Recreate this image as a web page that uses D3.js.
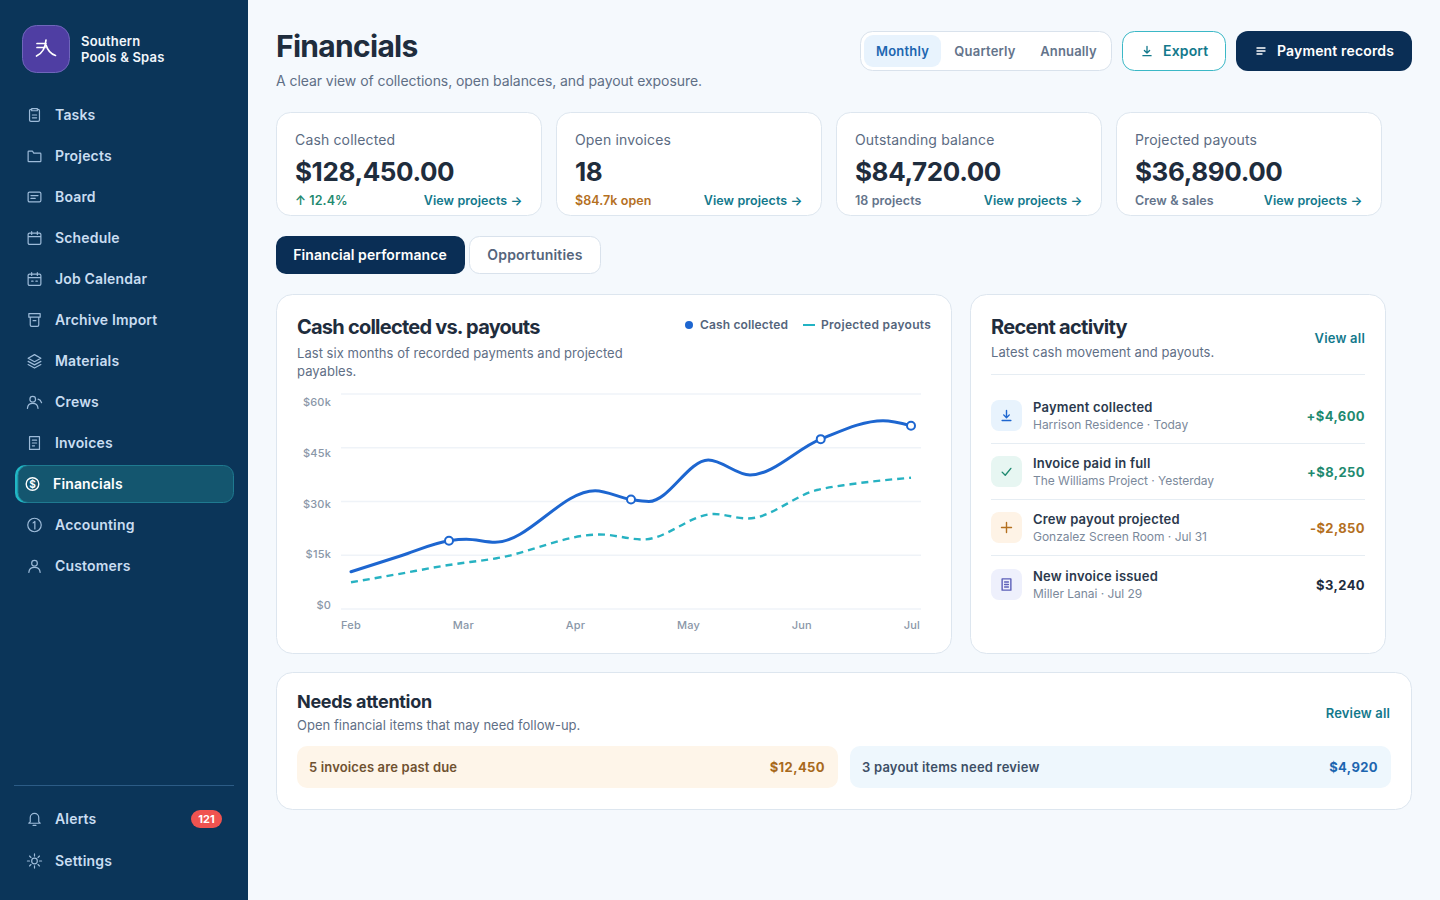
<!DOCTYPE html>
<html>
<head>
<meta charset="utf-8">
<title>Financials</title>
<script src="https://cdn.jsdelivr.net/npm/d3@7"></script>
<style>
html,body{margin:0;padding:0;background:#f5f9fd;}
svg{display:block;font-family:Inter,"Noto Sans",sans-serif;}
</style>
</head>
<body>
<svg id="page" width="1440" height="900"></svg>
<script>
// chart data
var monthLabels = ["Feb","Mar","Apr","May","Jun","Jul"];
var yTickValues = [0,15000,30000,45000,60000];
var yTickLabels = ["$60k","$45k","$30k","$15k","$0"];

var cashMonths = [0,0.44,0.875,1.03,1.286,2.18,2.5,2.66,3.19,3.5625,4.194,4.75,5];
var cashValues = [10410,14800,19060,19450,18610,33010,30550,30000,41580,37400,47400,52550,51150];
var cashMarkers = [2,6,10,12];

var payoutMonths = [0,0.41,0.857,1.30,2.22,2.61,3.24,3.54,4.16,4.46,5];
var payoutValues = [7450,9680,12200,14150,20800,19400,26510,25250,33210,34800,36640];

// page text
var navItems = ["Tasks","Projects","Board","Schedule","Job Calendar","Archive Import","Materials","Crews","Invoices","Financials","Accounting","Customers"];
var kpiLabels = ["Cash collected","Open invoices","Outstanding balance","Projected payouts"];
var kpiValues = ["$128,450.00","18","$84,720.00","$36,890.00"];
var kpiNotes = ["↑ 12.4%","$84.7k open","18 projects","Crew & sales"];
var kpiNoteColors = ["#1f8a70","#b4701f","#64748b","#64748b"];
var activityTitles = ["Payment collected","Invoice paid in full","Crew payout projected","New invoice issued"];
var activitySubs = ["Harrison Residence · Today","The Williams Project · Yesterday","Gonzalez Screen Room · Jul 31","Miller Lanai · Jul 29"];
var activityAmounts = ["+$4,600","+$8,250","-$2,850","$3,240"];
var activityColors = ["#1f8a70","#1f8a70","#b4701f","#1f2d3d"];
var activityBg = ["#e8f3fd","#e7f6f2","#fef3e6","#eef0fc"];
var activityIconColor = ["#1d66d0","#1f8a70","#b4701f","#5c5fb8"];

var svg = d3.select("#page");

function box(parent,x,y,w,h,r,fill,stroke){
	return parent.append("rect")
		.attr("x",x+0.5).attr("y",y+0.5)
		.attr("width",w-1).attr("height",h-1)
		.attr("rx",r)
		.attr("fill",fill)
		.attr("stroke",stroke||"none");
}

function label(parent,x,y,txt,size,weight,color,anchor,spacing){
	return parent.append("text")
		.attr("x",x).attr("y",y)
		.attr("dy","0.36em")
		.attr("font-size",size)
		.attr("font-weight",weight)
		.attr("fill",color)
		.attr("text-anchor",anchor||"start")
		.attr("letter-spacing",spacing||0)
		.text(txt);
}

// icons are drawn on a 24x24 box
var iconPaths = {
	tasks:"M8 4H7a2 2 0 0 0-2 2v13a2 2 0 0 0 2 2h10a2 2 0 0 0 2-2V6a2 2 0 0 0-2-2h-1M8 3h8v3H8zM9 12h6M9 16h6",
	projects:"M3 6a1 1 0 0 1 1-1h5l2 3h9a1 1 0 0 1 1 1v10a1 1 0 0 1-1 1H4a1 1 0 0 1-1-1z",
	board:"M5 5h14a2 2 0 0 1 2 2v10a2 2 0 0 1-2 2H5a2 2 0 0 1-2-2V7a2 2 0 0 1 2-2zM7 10h10M7 14h6",
	schedule:"M5 5h14a2 2 0 0 1 2 2v12a2 2 0 0 1-2 2H5a2 2 0 0 1-2-2V7a2 2 0 0 1 2-2zM3 10h18M8 3v4M16 3v4",
	calendar:"M5 5h14a2 2 0 0 1 2 2v12a2 2 0 0 1-2 2H5a2 2 0 0 1-2-2V7a2 2 0 0 1 2-2zM3 10h18M8 3v4M16 3v4M8 15h2M14 15h2",
	archive:"M4 3h16v5H4zM6 8v11a2 2 0 0 0 2 2h8a2 2 0 0 0 2-2V8M10 13h4",
	materials:"M12 3l9 5-9 5-9-5zM3 12.5l9 5 9-5M3 17l9 5 9-5",
	crews:"M9.5 4a4 4 0 1 1 0 8 4 4 0 0 1 0-8zM2 21c.5-5 3.5-7 7.5-7s7 2 7.5 7M17 8c2 .5 4 2 5 5",
	invoices:"M5 3h14v18H5zM9 8h6M9 12h6M9 16h3",
	accounting:"M12 2.5a9.5 9.5 0 1 1 0 19 9.5 9.5 0 0 1 0-19zM10 9l2.5-2v10.5",
	customers:"M12 4a4 4 0 1 1 0 8 4 4 0 0 1 0-8zM4 21c.5-5 3.5-7 8-7s7.500 2 8 7",
	bell:"M6 16V10a6 6 0 0 1 12 0v6l2 2H4zM10 21h4",
	sun:"M12 8a4 4 0 1 1 0 8 4 4 0 0 1 0-8zM12 2v3M12 19v3M2 12h3M19 12h3M5 5l2 2M17 17l2 2M5 19l2-2M17 7l2-2",
	download:"M12 4v11M7.500 11l4.500 4.500 4.500-4.500M5 20h14",
	menu:"M4 6h16M4 12h16M4 18h10",
	check:"M5 13l5 5 9-11",
	plus:"M12 4v16M4 12h16",
	doc:"M5 3h14v18H5zM9 8h6M9 12h6M9 16h6"
};

function icon(parent,name,cx,cy,size,color,width){
	var s = size/24;
	parent.append("path")
		.attr("d",iconPaths[name])
		.attr("transform","translate("+(cx-size/2)+","+(cy-size/2)+") scale("+s+")")
		.attr("fill","none")
		.attr("stroke",color)
		.attr("stroke-width",width/s)
		.attr("stroke-linecap","round")
		.attr("stroke-linejoin","round");
}

buildSidebar();
buildHeader();
buildKpis();
buildChart();
buildActivity();
buildAttention();

function buildSidebar(){
	var side = svg.append("g");
	side.append("rect").attr("width",248).attr("height",900).attr("fill","#0b3559");

	box(side,22,25,48,48,14,"#4f3ea3","#6f66bb");
	side.append("path")
		.attr("d","M37 43.500h9M37 47.500h8M46 40c-.5 7-3 13-9.500 16M46 45c1.500 5 5 9 9.500 10.500")
		.attr("fill","none").attr("stroke","#ffffff").attr("stroke-width",1.7).attr("stroke-linecap","round");
	label(side,81,41.5,"Southern",13,600,"#f2f7fc","start",0.2);
	label(side,81,57.5,"Pools & Spas",13,600,"#f2f7fc","start",0.2);

	var iconNames = ["tasks","projects","board","schedule","calendar","archive","materials","crews","invoices",null,"accounting","customers"];
	var navColor = "#c9ddf1", iconColor = "#9dbbd9";

	// active row sits behind its label
	side.append("rect").attr("x",15).attr("y",465).attr("width",30).attr("height",38).attr("rx",10).attr("fill","#20b6c4");
	box(side,17.5,465,216.5,38,10,"#14566f","#1f7a90");

	navItems.forEach(function(name,i){
		var cy = 115+41*i;
		if(name=="Financials"){
			var g = side.append("g");
			g.append("circle").attr("cx",32.5).attr("cy",484).attr("r",6.3).attr("fill","none").attr("stroke","#ffffff").attr("stroke-width",1.4);
			label(g,32.5,484,"$",10,700,"#ffffff","middle");
			label(side,53,cy,name,14,600,"#ffffff","start",0.15);
		}else{
			icon(side,iconNames[i],34.5,cy,17,iconColor,1.2);
			label(side,55,cy,name,14,600,navColor,"start",0.17);
		}
	});

	side.append("line").attr("x1",14).attr("x2",234).attr("y1",785.500).attr("y2",785.500).attr("stroke","#2c5c86");
	icon(side,"bell",34.500,819,17,iconColor,1.2);
	label(side,55,819,"Alerts",14,600,navColor,"start",0.17);
	side.append("rect").attr("x",191).attr("y",810).attr("width",31).attr("height",18).attr("rx",9).attr("fill","#ef5350");
	label(side,206.500,819,"121",11,700,"#ffffff","middle");
	icon(side,"sun",34.500,861,17,iconColor,1.2);
	label(side,55,861,"Settings",14,600,navColor,"start",0.2);
}

function buildHeader(){
	var top = svg.append("g");
	label(top,276,46,"Financials",30,700,"#1f2d3d","start",-0.7);
	label(top,276,81,"A clear view of collections, open balances, and payout exposure.",14,400,"#5f6f86","start",-0.06);

	box(top,860,31,252,40,12,"#ffffff","#d9e2ec");
	top.append("rect").attr("x",864).attr("y",35).attr("width",77).attr("height",32).attr("rx",9).attr("fill","#e8f3fd");
	label(top,902.500,51,"Monthly",13,600,"#1d66b0","middle",0.2);
	label(top,985,51,"Quarterly",13,600,"#64748b","middle",0.2);
	label(top,1068.500,51,"Annually",13,600,"#64748b","middle",0.15);

	box(top,1122,31,104,40,12,"#ffffff","#3bb8c6");
	icon(top,"download",1147,51,14,"#13798c",1.3);
	label(top,1163,51,"Export",14,600,"#13798c","start",0.15);

	top.append("rect").attr("x",1236).attr("y",31).attr("width",176).attr("height",40).attr("rx",12).attr("fill","#0a2e55");
	icon(top,"menu",1261,51,12,"#ffffff",1.4);
	label(top,1277,51,"Payment records",14,600,"#ffffff","start",0.15);

	// tabs
	top.append("rect").attr("x",276).attr("y",236).attr("width",189).attr("height",38).attr("rx",10).attr("fill","#0a2e55");
	label(top,370,255,"Financial performance",14,600,"#ffffff","middle",0.08);
	box(top,469,236,132,38,10,"#ffffff","#d9e2ec");
	label(top,535,255,"Opportunities",14,600,"#55657c","middle",0.2);
}

function buildKpis(){
	kpiLabels.forEach(function(name,i){
		var x = 276+280*i;
		var g = svg.append("g");
		box(g,x,112,266,104,14,"#ffffff","#dde6ef");
		label(g,x+19,140,name,14,400,"#5b6b82","start",0.15);
		label(g,x+19,172,kpiValues[i],26,700,"#1f2d3d","start",-0.4);
		label(g,x+19,200.500,kpiNotes[i],12.500,600,kpiNoteColors[i],"start",0.08);
		label(g,x+246.5,200.500,"View projects →",12.500,600,"#13798c","end",0.08);
	});
}

function buildChart(){
	var g = svg.append("g");
	box(g,276,294,676,360,16,"#ffffff","#dde6ef");
	label(g,297,327,"Cash collected vs. payouts",20,700,"#1f2d3d","start",-0.77);
	label(g,297,353,"Last six months of recorded payments and projected",13,400,"#5f6f86","start",0.04);
	label(g,297,371,"payables.",13,400,"#5f6f86","start",0.04);

	g.append("circle").attr("cx",689).attr("cy",325).attr("r",4).attr("fill","#1d66d0");
	label(g,700,325,"Cash collected",12,600,"#55657c","start",0.15);
	g.append("line").attr("x1",803).attr("x2",815).attr("y1",325).attr("y2",325).attr("stroke","#22b3c4").attr("stroke-width",2);
	label(g,821,325,"Projected payouts",12,600,"#55657c","start",0.3);

	var xScale = d3.scaleLinear().domain([0,5]).range([351,911]);
	var yScale = d3.scaleLinear().domain([0,60000]).range([609,394]);

	// axis labels are spread evenly and do not sit on the grid lines
	var yLabelScale = d3.scalePoint().domain(yTickLabels).range([402,605]);

	g.append("g").selectAll("line")
		.data(yTickValues)
		.enter()
		.append("line")
		.attr("x1",341).attr("x2",921)
		.attr("y1",function(d){ return yScale(d); })
		.attr("y2",function(d){ return yScale(d); })
		.attr("stroke","#eff3f8")
		.attr("stroke-width",1.6);

	var yAxis = g.append("g").attr("transform","translate(331,0)")
		.call(d3.axisLeft(yLabelScale).tickSize(0).tickPadding(0));
	var xAxis = g.append("g").attr("transform","translate(0,625)")
		.call(d3.axisBottom(xScale).tickValues([0,1,2,3,4,5]).tickSize(0).tickPadding(0)
			.tickFormat(function(d){ return monthLabels[d]; }));
	xAxis.selectAll("text").attr("dy","0.36em").attr("y",0);
	[yAxis,xAxis].forEach(function(a){
		a.select(".domain").remove();
		a.selectAll("text").attr("font-family","Inter").attr("font-size",11).attr("font-weight",500).attr("letter-spacing",0.2).attr("fill","#8a97a8");
	});

	// month labels are spaced edge to edge across the grid width
	var monthTicks = xAxis.selectAll(".tick");
	var widths = [];
	monthTicks.select("text").each(function(){ widths.push(this.getComputedTextLength()); });
	var gap = (579-d3.sum(widths))/(widths.length-1);
	var left = 341;
	monthTicks.each(function(d,i){
		d3.select(this).attr("transform","translate("+left+",0)")
			.select("text").attr("text-anchor","start");
		left += widths[i]+gap;
	});

	function linePath(months,values){
		return d3.line()
			.x(function(d){ return xScale(months[d]); })
			.y(function(d){ return yScale(values[d]); })
			.curve(d3.curveMonotoneX)(d3.range(months.length));
	}

	g.append("path")
		.attr("d",linePath(payoutMonths,payoutValues))
		.attr("fill","none").attr("stroke","#27b2c2").attr("stroke-width",2.4)
		.attr("stroke-dasharray","7 5");
	g.append("path")
		.attr("d",linePath(cashMonths,cashValues))
		.attr("fill","none").attr("stroke","#1d66d0").attr("stroke-width",3)
		.attr("stroke-linecap","round");

	g.append("g").selectAll("circle")
		.data(cashMarkers)
		.enter()
		.append("circle")
		.attr("cx",function(d){ return xScale(cashMonths[d]); })
		.attr("cy",function(d){ return yScale(cashValues[d]); })
		.attr("r",4)
		.attr("fill","#ffffff").attr("stroke","#1d66d0").attr("stroke-width",2);
}

function buildActivity(){
	var g = svg.append("g");
	box(g,970,294,416,360,16,"#ffffff","#dde6ef");
	label(g,991,327,"Recent activity",20,700,"#1f2d3d","start",-0.7);
	label(g,991,352,"Latest cash movement and payouts.",13,400,"#5f6f86","start",0.06);
	label(g,1365,338,"View all",13,600,"#13798c","end",0.2);
	g.append("line").attr("x1",991).attr("x2",1365).attr("y1",374.500).attr("y2",374.500).attr("stroke","#e6edf3");

	var rowIcons = ["download","check","plus","doc"];
	var rowTops = [400,456,512,569];
	activityTitles.forEach(function(name,i){
		var top = rowTops[i];
		g.append("rect").attr("x",991).attr("y",top).attr("width",31).attr("height",31).attr("rx",8).attr("fill",activityBg[i]);
		icon(g,rowIcons[i],1006.500,top+15.500,15,activityIconColor[i],1.4);
		label(g,1033,top+7.500,name,13,600,"#2b394d","start",0.2);
		label(g,1033,top+24.500,activitySubs[i],12,400,"#7b899b","start",-0.03);
		label(g,1365,top+16.500,activityAmounts[i],13,700,activityColors[i],"end",0.4);
		if(i<3){
			g.append("line").attr("x1",991).attr("x2",1365).attr("y1",top+43.500).attr("y2",top+43.500).attr("stroke","#e6edf3");
		}
	});
}

function buildAttention(){
	var g = svg.append("g");
	box(g,276,672,1136,138,16,"#ffffff","#dde6ef");
	label(g,297,701.500,"Needs attention",18,700,"#1f2d3d","start",-0.3);
	label(g,297,725.500,"Open financial items that may need follow-up.",13,400,"#5f6f86","start",0.03);
	label(g,1390,713.500,"Review all",13,600,"#13798c","end",0.15);

	g.append("rect").attr("x",297).attr("y",746).attr("width",541).attr("height",42).attr("rx",10).attr("fill","#fef5e9");
	label(g,309,767.500,"5 invoices are past due",13,600,"#6f5130","start",0.15);
	label(g,825,767.500,"$12,450",13,700,"#a8691c","end",0.4);

	g.append("rect").attr("x",850).attr("y",746).attr("width",541).attr("height",42).attr("rx",10).attr("fill","#eef7fd");
	label(g,862,767.500,"3 payout items need review",13,600,"#3d4f66","start",0.2);
	label(g,1378,767.500,"$4,920",13,700,"#1d66b0","end",0.4);
}
</script>
</body>
</html>
